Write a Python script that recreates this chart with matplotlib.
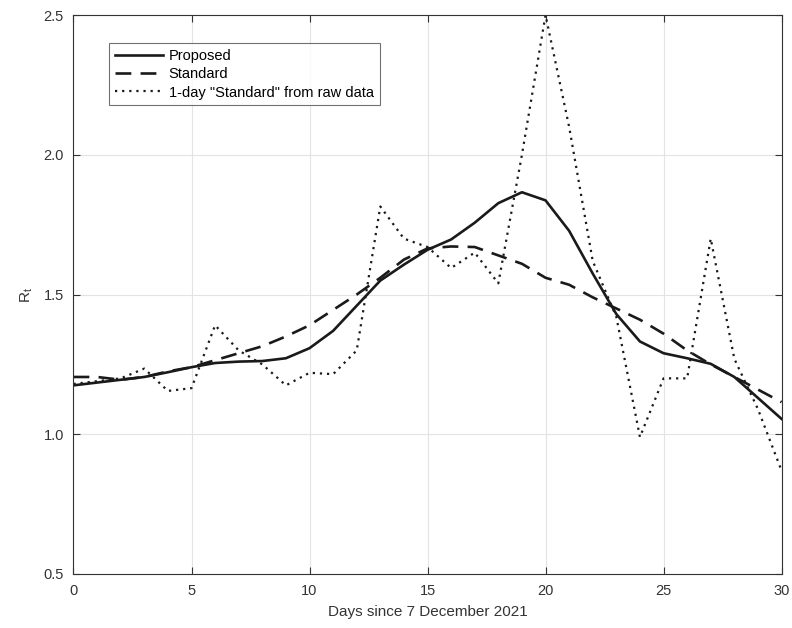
import numpy as np
import matplotlib
matplotlib.use('Agg')
import matplotlib.pyplot as plt

plt.rcParams['font.family'] = ['Liberation Sans', 'DejaVu Sans']
plt.rcParams['mathtext.fontset'] = 'custom'
plt.rcParams['mathtext.rm'] = 'Liberation Sans'

days = np.arange(0, 31)

proposed = [1.175, 1.185, 1.195, 1.205, 1.222, 1.24, 1.255, 1.26, 1.262, 1.272,
            1.308, 1.37, 1.46, 1.55, 1.607, 1.66, 1.697, 1.757, 1.827, 1.866,
            1.837, 1.728, 1.575, 1.43, 1.332, 1.29, 1.272, 1.252, 1.205, 1.13,
            1.055]
standard = [1.205, 1.205, 1.195, 1.205, 1.225, 1.24, 1.265, 1.29, 1.315, 1.35,
            1.39, 1.445, 1.5, 1.56, 1.625, 1.665, 1.672, 1.67, 1.64, 1.61,
            1.56, 1.535, 1.49, 1.45, 1.41, 1.36, 1.30, 1.25, 1.205, 1.16,
            1.115]
raw_1day = [1.18, 1.19, 1.2, 1.235, 1.155, 1.165, 1.39, 1.30, 1.25, 1.175,
            1.22, 1.215, 1.30, 1.815, 1.70, 1.67, 1.595, 1.65, 1.54, 2.0,
            2.5, 2.1, 1.62, 1.42, 0.99, 1.2, 1.2, 1.70, 1.27, 1.09,
            0.87]

ink = '#333333'
line_c = '#1a1a1a'

fig = plt.figure(figsize=(7.92, 6.28), dpi=100)
ax = fig.add_axes([0.0928, 0.086, 0.894, 0.890])

ax.plot(days, proposed, color=line_c, lw=1.9, ls='-', label='Proposed')
ax.plot(days, standard, color=line_c, lw=1.9, ls=(0, (6, 3.5)), label='Standard')
ax.plot(days, raw_1day, color=line_c, lw=1.6, ls=(0, (1, 2.2)),
        label='1-day "Standard" from raw data')

ax.set_xlim(0, 30)
ax.set_ylim(0.5, 2.5)
ax.set_xticks([0, 5, 10, 15, 20, 25, 30])
ax.set_yticks([0.5, 1.0, 1.5, 2.0, 2.5])
ax.set_yticklabels(['0.5', '1.0', '1.5', '2.0', '2.5'])

ax.grid(True, color='#e3e3e3', lw=0.8)
ax.set_axisbelow(True)
ax.tick_params(direction='in', length=5, width=0.8, colors=ink,
               labelsize=10.5, top=True, right=True, pad=7)
for s in ax.spines.values():
    s.set_color(ink)
    s.set_linewidth(0.8)

ax.set_xlabel('Days since 7 December 2021', fontsize=11, color=ink, labelpad=5)
ax.set_ylabel(r'$\mathregular{R_t}$', fontsize=11, color=ink, labelpad=6)

leg = ax.legend(loc='upper left', bbox_to_anchor=(0.05, 0.95), borderaxespad=0,
                fontsize=10.5, frameon=True, fancybox=False, handlelength=3.3,
                labelspacing=0.3, handletextpad=0.4, borderpad=0.4)
leg.get_frame().set_edgecolor('#4d4d4d')
leg.get_frame().set_linewidth(0.8)

fig.savefig('out.png', dpi=100)
